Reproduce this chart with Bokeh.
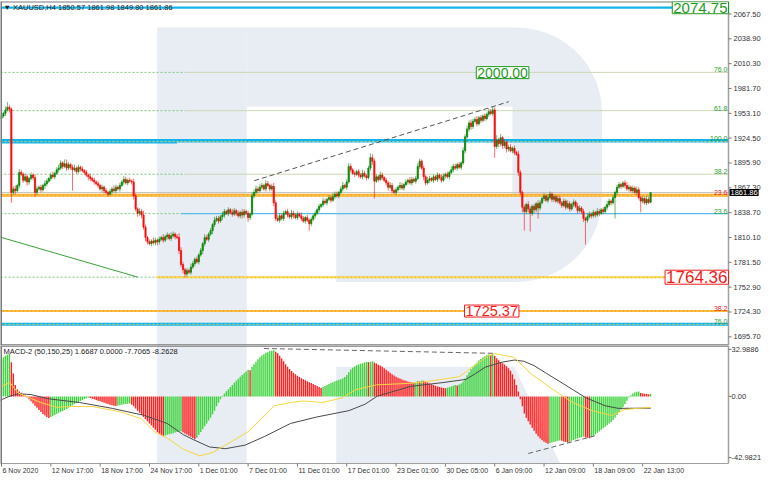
import numpy as np
from bokeh.plotting import figure
from bokeh.layouts import column
from bokeh.models import Range1d, Label
from bokeh.embed import file_html
from bokeh.resources import INLINE

# ---------------- data ----------------
SYMBOL_TITLE = "\u25bc XAUUSD,H4 1850.57 1861.98 1849.80 1861.86"
MACD_TITLE = "MACD-2 (50,150,25) 1.6687 0.0000 -7.7065 -8.2628"

FIRST_OPEN = 1947.0
CLOSE = [
    1950, 1953, 1957, 1960, 1958, 1862, 1866, 1864, 1870, 1885,
    1883, 1876, 1880, 1874, 1878, 1882, 1879, 1862, 1866, 1868,
    1865, 1870, 1872, 1875, 1878, 1882, 1880, 1884, 1888, 1890,
    1896, 1892, 1895, 1890, 1894, 1891, 1888, 1890, 1886, 1891,
    1889, 1887, 1885, 1882, 1880, 1878, 1876, 1874, 1872, 1870,
    1866, 1868, 1864, 1862, 1860, 1863, 1866, 1864, 1868, 1866,
    1870, 1874, 1877, 1873, 1876, 1875, 1874, 1858, 1843, 1838,
    1840, 1836, 1822, 1810, 1805, 1803, 1806, 1804, 1807, 1805,
    1808, 1810, 1807, 1811, 1813, 1809, 1812, 1814, 1811, 1810,
    1795, 1779, 1773, 1768, 1772, 1770, 1776, 1780, 1785, 1782,
    1790, 1795, 1803, 1810, 1808, 1814, 1818, 1825, 1830, 1832,
    1829, 1834, 1836, 1840, 1838, 1842, 1839, 1837, 1841, 1838,
    1835, 1839, 1836, 1840, 1838, 1833, 1837, 1858, 1862, 1866,
    1864, 1868, 1870, 1866, 1872, 1870, 1866, 1869, 1850, 1832,
    1830, 1835, 1832, 1838, 1840, 1836, 1834, 1838, 1836, 1833,
    1837, 1835, 1832, 1829, 1833, 1830, 1826, 1831, 1835, 1838,
    1842, 1846, 1848, 1852, 1850, 1854, 1856, 1853, 1857, 1860,
    1858, 1862, 1866, 1870, 1868, 1874, 1892, 1888, 1884, 1883,
    1886, 1882, 1880, 1884, 1881, 1879, 1890, 1902, 1898, 1875,
    1880, 1877, 1882, 1879, 1876, 1873, 1868, 1870, 1864, 1862,
    1865, 1868, 1870, 1867, 1871, 1874, 1876, 1873, 1877, 1875,
    1878, 1892, 1898, 1890, 1880, 1873, 1876, 1878, 1876, 1880,
    1877, 1882, 1879, 1876, 1881, 1883, 1880, 1885, 1888, 1892,
    1890, 1894, 1891, 1896, 1910, 1926, 1935, 1942, 1938, 1944,
    1946, 1941, 1948, 1945, 1950, 1947, 1952, 1955, 1953, 1957,
    1915, 1922, 1918, 1925, 1916, 1920, 1912, 1914, 1910, 1913,
    1908, 1906, 1885, 1862, 1845, 1840, 1848, 1843, 1838, 1846,
    1842, 1849, 1844, 1850, 1855, 1858, 1853, 1856, 1860, 1854,
    1857, 1852, 1855, 1850, 1847, 1852, 1845, 1849, 1843, 1848,
    1851, 1846, 1841, 1844, 1840, 1832, 1830, 1834, 1837, 1835,
    1839, 1836, 1840, 1838, 1842, 1840, 1845, 1848, 1852, 1850,
    1856, 1862, 1868, 1871, 1869, 1873, 1870, 1866, 1868, 1864,
    1867, 1862, 1865, 1856, 1852, 1855, 1850, 1854, 1850.57, 1861.86,
]
UP_WICK = [
    3, 2, 4, 6, 3, 2, 3, 4, 2, 4,
    3, 2, 4, 3, 2, 3, 2, 4, 3, 2,
    3, 2, 4, 3, 2, 3, 4, 2, 3, 4,
    3, 2, 5, 5, 3, 2, 3, 4, 2, 3,
    2, 3, 2, 3, 2, 4, 2, 3, 2, 3,
    2, 3, 2, 3, 2, 3, 2, 4, 3, 2,
    3, 2, 4, 3, 2, 3, 2, 4, 3, 2,
    4, 3, 5, 3, 2, 3, 2, 4, 3, 2,
    3, 2, 4, 2, 3, 2, 4, 3, 2, 3,
    5, 4, 3, 2, 3, 2, 4, 3, 2, 3,
    2, 3, 2, 4, 3, 2, 3, 2, 4, 3,
    3, 2, 4, 3, 2, 3, 2, 4, 3, 2,
    3, 2, 4, 3, 2, 3, 2, 4, 3, 4,
    3, 4, 3, 2, 4, 3, 2, 3, 4, 3,
    4, 3, 2, 3, 2, 3, 2, 4, 3, 2,
    3, 2, 4, 3, 2, 3, 2, 3, 2, 3,
    2, 3, 2, 4, 3, 2, 3, 2, 4, 3,
    3, 2, 3, 4, 2, 3, 4, 3, 2, 3,
    2, 3, 2, 4, 3, 2, 3, 5, 4, 3,
    3, 2, 4, 3, 2, 3, 2, 4, 3, 2,
    3, 2, 4, 3, 2, 3, 2, 4, 3, 2,
    3, 4, 3, 2, 3, 2, 4, 3, 2, 3,
    2, 3, 2, 4, 3, 2, 3, 2, 4, 3,
    3, 2, 3, 2, 4, 3, 4, 3, 4, 3,
    3, 4, 2, 3, 2, 3, 2, 4, 3, 4,
    3, 6, 3, 4, 2, 3, 2, 3, 4, 2,
    3, 2, 4, 3, 2, 3, 2, 4, 3, 2,
    3, 2, 4, 3, 2, 3, 2, 4, 3, 2,
    3, 2, 4, 3, 2, 3, 2, 4, 3, 2,
    3, 2, 4, 3, 2, 3, 2, 4, 3, 2,
    3, 2, 4, 3, 2, 3, 2, 4, 3, 2,
    3, 2, 3, 3, 2, 2, 3, 4, 3, 2,
    3, 2, 4, 3, 2, 3, 2, 4, 3, 0.12,
]
DN_WICK = [
    3, 2, 3, 2, 4, 12, 3, 4, 2, 3,
    2, 3, 2, 4, 3, 2, 3, 5, 3, 2,
    3, 2, 4, 3, 2, 3, 2, 3, 2, 3,
    2, 3, 2, 3, 2, 3, 24, 2, 3, 2,
    3, 2, 3, 2, 4, 3, 2, 3, 2, 3,
    2, 4, 3, 2, 3, 2, 3, 2, 3, 2,
    3, 2, 3, 2, 3, 2, 3, 4, 3, 4,
    3, 4, 3, 4, 3, 2, 3, 2, 3, 4,
    3, 2, 3, 2, 3, 2, 3, 2, 3, 2,
    4, 3, 4, 4, 3, 2, 3, 2, 3, 2,
    3, 2, 4, 3, 2, 3, 2, 4, 3, 2,
    3, 2, 4, 3, 2, 3, 2, 3, 2, 3,
    2, 3, 4, 3, 2, 5, 3, 2, 3, 2,
    3, 2, 3, 2, 3, 2, 3, 2, 4, 3,
    2, 3, 2, 3, 2, 3, 2, 3, 4, 2,
    3, 2, 3, 2, 3, 2, 8, 3, 2, 3,
    2, 3, 2, 3, 2, 3, 2, 3, 2, 3,
    2, 3, 2, 3, 2, 3, 2, 3, 2, 3,
    2, 3, 2, 3, 2, 3, 2, 3, 4, 20,
    2, 3, 2, 3, 2, 3, 4, 2, 3, 2,
    3, 2, 3, 2, 3, 2, 3, 2, 3, 2,
    3, 2, 3, 2, 4, 3, 2, 3, 2, 3,
    2, 3, 2, 3, 2, 3, 2, 3, 2, 3,
    2, 3, 2, 3, 2, 3, 2, 3, 4, 3,
    2, 3, 2, 3, 2, 3, 2, 3, 2, 3,
    13, 3, 4, 3, 4, 3, 4, 3, 2, 3,
    3, 2, 4, 3, 6, 22, 3, 4, 21, 3,
    4, 3, 12, 3, 2, 3, 2, 3, 2, 3,
    3, 2, 3, 2, 3, 2, 3, 2, 3, 2,
    3, 2, 3, 2, 3, 4, 28, 3, 2, 3,
    2, 3, 2, 3, 2, 3, 2, 3, 2, 3,
    2, 24, 3, 2, 3, 2, 3, 2, 3, 2,
    3, 2, 3, 2, 13, 3, 2, 3, 2, 0.77,
]
MACD_HIST = [
    26, 27.5, 28.5, 29.3, 29.8, 24, 16, 8, 5, 3.5,
    2.5, 1.5, 0.5, -0.8, -2, -3.5, -5, -6.5, -8, -9.5,
    -11, -12.3, -13.5, -14.5, -15.2, -14.5, -13.8, -13, -12.2, -11.5,
    -10.8, -10.2, -9.6, -8.9, -8, -7, -6.2, -5.4, -4.6, -3.9,
    -3.2, -2.5, -1.9, -1.4, -1.0, -1.2, -1.6, -2.0, -2.5, -3.0,
    -3.5, -4.0, -4.5, -5.0, -5.4, -5.8, -6.2, -6.5, -6.8, -6.5,
    -6.2, -5.9, -5.6, -5.4, -5.2, -5.0, -5.8, -7, -8.5, -10,
    -11.5, -13, -14.5, -16, -17.5, -19, -20.5, -22, -23.5, -25,
    -26.3, -27.3, -28, -27.5, -27, -26.6, -26.2, -25.8, -25.4, -25,
    -24.7, -24.4, -25.2, -26, -26.8, -27.6, -28.4, -29.2, -30, -29,
    -27, -25, -23, -21, -19, -17, -15, -12.5, -10, -7,
    -4.5, -2, 0.4, 2, 3.6, 5, 6.5, 8, 9.5, 11,
    12.4, 13.7, 15, 16.2, 17.4, 18.6, 18.3, 20.6, 22.5, 24.3,
    26, 27.4, 28.6, 29.6, 30.4, 31, 31.6, 32, 32.3, 31.4,
    30.2, 28.5, 26.6, 24.6, 22.6, 20.8, 19.2, 17.8, 16.6, 15.5,
    14.5, 13.6, 12.8, 12.1, 11.4, 10.7, 10.0, 9.3, 8.6, 7.9,
    7.2, 6.5, 5.8, 6.5, 7.2, 7.9, 8.7, 9.4, 10, 10.6,
    11.1, 11.6, 12.1, 12.7, 13.6, 15, 17, 18.8, 20, 21,
    21.8, 22.4, 22.9, 23.3, 23.7, 24.1, 23.9, 24.3, 24.6, 23.8,
    23, 22.2, 21.6, 20.8, 19.8, 18.7, 17.6, 16.5, 15.5, 14.6,
    13.8, 13.1, 12.5, 11.9, 11.4, 10.9, 10.5, 10.1, 9.8, 9.5,
    10.0, 10.8, 10.5, 11.2, 10.9, 10.3, 9.7, 9.1, 8.5, 8.0,
    7.5, 7.0, 6.6, 6.2, 5.9, 5.7, 6.0, 6.4, 6.9, 7.4,
    7.9, 7.6, 8.3, 9.0, 10.5, 12.5, 14.8, 17, 19, 20.8,
    22.4, 23.8, 25.1, 26.3, 27.3, 28.1, 28.8, 29.4, 29.1, 29.6,
    28.3, 26.8, 25.3, 24.2, 23.3, 22.3, 21.2, 19.8, 18, 15.5,
    12, 8, 3.5, -2, -7, -12, -15, -17.5, -19.8, -22,
    -24.2, -26.2, -28, -29.6, -30.8, -31.8, -32.6, -33.2, -32.8, -32.4,
    -32, -31.6, -31.2, -30.9, -31.2, -31.6, -32, -32.3, -31.8, -31.2,
    -30.6, -30, -29.5, -29, -28.6, -28.2, -28.6, -29, -29.3, -28.5,
    -27.6, -26.6, -25.6, -24.6, -23.5, -22.4, -21.3, -20.2, -19.1, -18,
    -16.5, -14.8, -13, -11.2, -9.4, -7.4, -5.3, -3, -0.8, 0.8,
    2, 2.8, 3.2, 3.4, 2.4, 2.1, 1.9, 1.7, 1.55, 1.6687,
]
MACD_MAIN_X = [-1.5, 3.4, 8.4, 15.0, 23.2, 39.6, 56.1, 72.5, 84.0, 92.2, 97.2, 105.4,
               113.6, 123.5, 133.4, 146.5, 159.7, 176.1, 184.3, 190.5, 207.4, 223.8,
               235.3, 240.3, 245.2, 253.4, 260.0, 264.9, 269.9, 276.4, 283.0, 289.6,
               296.2, 306.0, 312.6, 329.1]
MACD_MAIN_Y = [-3.2, -0.3, 1.8, 1.3, -1.6, -4.3, -8.4, -13.4, -19.0, -26.9, -30.3, -35.5,
               -36.7, -34.2, -28.1, -19.0, -14.5, -10.0, -5.5, 0.2, 7.0, 9.7,
               11.9, 16.0, 20.5, 23.9, 25.5, 24.6, 21.6, 16.0, 10.4, 4.7,
               -1.0, -6.6, -8.4, -8.2628]
SIGNAL_X = [0.2, 4.3, 8.4, 19.9, 28.1, 34.7, 46.2, 52.8, 61.0, 70.9, 77.4, 84.0,
            92.2, 100.5, 107.0, 116.9, 125.1, 133.4, 138.3, 146.5, 153.1, 162.9,
            172.8, 179.4, 190.1, 207.4, 215.6, 232.0, 238.6, 246.8, 250.1, 260.0,
            268.2, 279.7, 289.6, 299.4, 309.3, 315.9, 322.5, 329.1]
SIGNAL_Y = [7.0, 9.7, 2.4, -4.3, -7.7, -7.1, -7.1, -8.9, -11.1, -15.7, -24.7, -29.2,
            -37.1, -41.7, -39.4, -31.5, -24.7, -13.4, -6.6, -4.3, -3.2, -4.3,
            -1.0, 4.7, 8.1, 9.2, 10.4, 13.8, 20.5, 28.4, 30.0, 27.3,
            16.0, 4.7, -4.3, -10.0, -13.4, -9.3, -8.4, -7.7065]

X_TICKS = [0, 25, 50, 75, 100, 125, 150, 175, 200, 225, 250, 275, 300, 325]
X_LABELS = ["6 Nov 2020", "12 Nov 17:00", "18 Nov 17:00", "24 Nov 17:00", "1 Dec 01:00",
            "7 Dec 01:00", "11 Dec 01:00", "17 Dec 01:00", "23 Dec 01:00", "30 Dec 05:00",
            "6 Jan 09:00", "12 Jan 09:00", "18 Jan 09:00", "22 Jan 13:00"]
PRICE_TICKS = [2067.50, 2038.90, 2010.30, 1981.70, 1953.10, 1924.50, 1895.90,
               1867.30, 1838.70, 1810.10, 1781.50, 1752.90, 1724.30, 1695.70]
MACD_TICKS = [32.9886, 0.0, -42.9821]
MACD_TICK_LABELS = ["32.9886", "0.00", "-42.9821"]

# Fibonacci objects and horizontal levels
FIB_G_LOW, FIB_G_HIGH = 1764.36, 2074.75
FIB_G_PCT = [0.0, 23.6, 38.2, 61.8, 76.0]
FIB_R_PCT = [23.6, 38.2]
FIB_R_LEVELS = [1858.8, 1725.37]
CYAN_LEVELS = [2074.75, 1921.5, 1710.1]
CYAN_TAGS = ["100.0", "100.0", "76.0"]
LAST_PRICE = 1861.86
BOX_GREEN = [2074.75, 2000.00]
BOX_RED = [1764.36, 1725.37]
# trend lines (bar index, value)
PRICE_DASH = [(128.1, 1875.5), (257.1, 1966.5)]
PRICE_GREEN = [(-1.5, 1811.1), (69.0, 1764.5)]
MACD_DASH_TOP = [(133.0, 33.6), (249.8, 30.2)]
MACD_DASH_BOT = [(267.0, -40.1), (301.5, -27.4)]

# ---------------- layout constants ----------------
X_LO, X_HI = -0.5, 368.5          # plotting area (bars)
P_LO, P_HI = 1685.7, 2081.9
M_LO, M_HI = -47.1, 35.7
DATA_W = 728                      # px of the bar area
AXIS_W = 38                       # px of the right-hand price scale
P_H = 344
M_H = 118
XLAB_H = 12                       # px of the time scale under the MACD pane
FONT = "Liberation Sans"
GREEN_T = "#2c9c2c"
RED_T = "#f02020"
LOGO = "#e8ecf3"
FRAME_C = "#7a7a7a"
AXIS_C = "#a0a0a0"
LABEL_C = "#333333"

BAR_PX = (X_HI - X_LO) / DATA_W   # bars per pixel
X_END = X_HI + AXIS_W * BAR_PX
P_PX = (P_HI - P_LO) / P_H
M_PX = (M_HI - M_LO) / M_H

# reference pixel geometry for the watermark
REF_L, REF_R = 2.0, 750.0
REF_PT, REF_PB = 1.0, 358.0
REF_MT, REF_MB = 361.0, 483.0


def rx(px):
    return X_LO + (np.asarray(px, float) - REF_L) / (REF_R - REF_L) * (X_HI - X_LO)


def ry_price(py):
    return P_HI - (np.asarray(py, float) - REF_PT) / (REF_PB - REF_PT) * (P_HI - P_LO)


def ry_macd(py):
    return M_HI - (np.asarray(py, float) - REF_MT) / (REF_MB - REF_MT) * (M_HI - M_LO)


def lab(fig, x, y, text, size="7.5px", color=LABEL_C, align="left", baseline="middle", **kw):
    fig.add_layout(Label(x=x, y=y, text=text, text_align=align, text_baseline=baseline,
                         text_font=FONT, text_font_size=size, text_color=color, **kw))


x_range = Range1d(X_LO, X_END)

# ---------------- price pane ----------------
p = figure(frame_width=DATA_W + AXIS_W, frame_height=P_H, x_range=x_range,
           y_range=Range1d(P_LO, P_HI), output_backend="svg", toolbar_location=None,
           x_axis_location=None, y_axis_location=None,
           min_border_left=0, min_border_top=1, min_border_bottom=0, min_border_right=0)
p.grid.visible = False
p.outline_line_color = None
p.background_fill_color = "white"
p.border_fill_color = "white"

# watermark logo
a1 = np.linspace(np.pi / 2, 0, 14)
a2 = np.linspace(0, -np.pi / 2, 14)
bowl_px = [255] + list(532 + 88 * np.cos(a1)) + list(532 + 88 * np.cos(a2)) + [347, 347, 528, 528, 255]
bowl_py = [28] + list(116 - 88 * np.sin(a1)) + list(204 - 88 * np.sin(a2)) + [292, 203, 203, 110, 110]
p.patch(rx(bowl_px), ry_price(bowl_py), color=LOGO, line_width=0)
p.patch(rx([163, 255, 255, 163]), ry_price([28, 28, 420, 420]), color=LOGO, line_width=0)

# level lines
fib_g = [FIB_G_LOW + pct / 100.0 * (FIB_G_HIGH - FIB_G_LOW) for pct in FIB_G_PCT]
for pct, lv in zip(FIB_G_PCT, fib_g):
    p.segment(X_LO, lv, 93, lv, line_color="#7cc57c", line_width=1, line_dash="2 2")
    if pct == 0.0:
        p.segment(78.5, lv, X_HI, lv, line_color="#f2c428", line_width=2)
        p.segment(78.5, lv, X_HI, lv, line_color="#fff2a0", line_width=1, line_dash="2 2")
    elif pct == 23.6:
        p.segment(91, lv, X_HI, lv, line_color="#55bde8", line_width=1.3)
    else:
        p.segment(93, lv, X_HI, lv, line_color="#a6d9ee", line_width=1, line_dash="2 2")
        p.segment(93, lv, X_HI, lv, line_color="#efd57a", line_width=1, line_dash="2 2",
                  line_dash_offset=2)

for lv, w in zip(CYAN_LEVELS, [2.2, 3.5, 3]):
    p.segment(X_LO, lv, X_HI, lv, line_color="#12b4ea", line_width=w)
p.segment(X_LO, CYAN_LEVELS[1] - 1.5, 89, CYAN_LEVELS[1] - 1.5, line_color="#12b4ea", line_width=3)
p.segment(X_LO, CYAN_LEVELS[1] - 1.0, X_HI, CYAN_LEVELS[1] - 1.0, line_color="#e9d36a",
          line_width=1, line_dash="2 2")
p.segment(X_LO, CYAN_LEVELS[2], X_HI, CYAN_LEVELS[2], line_color="#f3cf55",
          line_width=1, line_dash="2 2")

p.segment(X_LO, LAST_PRICE, X_HI, LAST_PRICE, line_color="#c4c4c4", line_width=1)
for lv, w in zip(FIB_R_LEVELS, [3, 2]):
    p.segment(X_LO, lv, X_HI, lv, line_color="#f8ac2c", line_width=w)
    p.segment(X_LO, lv, X_HI, lv, line_color="#ffd860", line_width=1, line_dash="2 2")

# trend lines
p.segment(PRICE_DASH[0][0], PRICE_DASH[0][1], PRICE_DASH[1][0], PRICE_DASH[1][1],
          line_color="#555555", line_width=1, line_dash="5 3")
p.segment(PRICE_GREEN[0][0], PRICE_GREEN[0][1], PRICE_GREEN[1][0], PRICE_GREEN[1][1],
          line_color="#3aa03a", line_width=1)

# candles
close = np.array(CLOSE, float)
N = len(close)
idx = np.arange(N)
open_ = np.concatenate([[FIRST_OPEN], close[:-1]])
high = np.maximum(open_, close) + np.array(UP_WICK, float)
low = np.minimum(open_, close) - np.array(DN_WICK, float)
bull = close >= open_
ccol = np.where(bull, "#0c880c", "#f21010")
p.segment(idx, low, idx, high, line_color=list(ccol), line_width=1, line_alpha=0.6)
p.vbar(x=idx, bottom=np.minimum(open_, close), top=np.maximum(open_, close), width=0.6,
       fill_color=list(ccol), line_color=list(ccol), line_width=0.8)

# frame and price scale
p.segment(X_LO, P_HI, X_HI, P_HI, line_color=FRAME_C, line_width=2)
p.segment(X_LO, P_LO, X_HI, P_LO, line_color=FRAME_C, line_width=2.5)
p.segment(X_LO, P_LO, X_LO, P_HI, line_color=FRAME_C, line_width=3)
p.segment(X_HI, P_LO, X_HI, P_HI, line_color=AXIS_C, line_width=1.5)
p.segment([X_HI] * len(PRICE_TICKS), PRICE_TICKS, [X_HI + 3 * BAR_PX] * len(PRICE_TICKS),
          PRICE_TICKS, line_color="#777777", line_width=1)
for t in PRICE_TICKS:
    lab(p, X_HI, t, f"{t:.2f}", x_offset=5)

# level tags on the right
for pct, lv in zip(FIB_G_PCT, fib_g):
    lab(p, X_HI, lv, f"{pct:.1f}", size="7px", color=GREEN_T, align="right",
        baseline="bottom", x_offset=-1)
for tag, lv in zip(CYAN_TAGS, CYAN_LEVELS):
    lab(p, X_HI, lv, tag, size="7px", color=GREEN_T, align="right",
        baseline="bottom", x_offset=-1)
for pct, lv in zip(FIB_R_PCT, FIB_R_LEVELS):
    lab(p, X_HI, lv, f"{pct:.1f}", size="7px", color=RED_T, align="right",
        baseline="bottom", x_offset=-1)


# big price boxes
def box(xv, yv, val, col, size, align):
    lab(p, xv, yv, f"{val:.2f}", size=size, color=col, align=align,
        background_fill_color="white", border_line_color=col, border_line_width=1, padding=1)


box(X_HI, BOX_GREEN[0], BOX_GREEN[0], "#1f9a1f", "15px", "right")
box(254, BOX_GREEN[1], BOX_GREEN[1], "#1f9a1f", "14px", "center")
box(X_HI, BOX_RED[0], BOX_RED[0], "#f01c1c", "17px", "right")
box(248.5, BOX_RED[1], BOX_RED[1], "#f01c1c", "14.5px", "center")

# current price marker on the scale
lab(p, X_HI, LAST_PRICE, f"{LAST_PRICE:.2f}", color="white", x_offset=1,
    background_fill_color="black", padding=1)

lab(p, X_LO, P_HI - 1.5, SYMBOL_TITLE, color="#202020", baseline="top", x_offset=3)

# ---------------- MACD pane ----------------
m = figure(frame_width=DATA_W + AXIS_W, frame_height=M_H + XLAB_H, x_range=x_range,
           y_range=Range1d(M_LO - XLAB_H * M_PX, M_HI), output_backend="svg",
           toolbar_location=None, x_axis_location=None, y_axis_location=None,
           min_border_left=0, min_border_top=0, min_border_bottom=0, min_border_right=0)
m.grid.visible = False
m.outline_line_color = None
m.background_fill_color = "white"
m.border_fill_color = "white"

m.patch(rx([163, 255, 255, 163]), ry_macd([340, 340, 483, 483]), color=LOGO, line_width=0)
m.patch(rx([347, 530, 577, 347]), ry_macd([383, 383, 483, 483]), color=LOGO, line_width=0)

hist = np.array(MACD_HIST, float)
rising = np.concatenate([[True], hist[1:] > hist[:-1]])
hcol = np.where(rising, "#3fd43f", "#ff2020")
m.vbar(x=idx, bottom=0, top=hist, width=0.72, fill_color=list(hcol), line_width=0)
m.line(MACD_MAIN_X, MACD_MAIN_Y, line_color="#4a4a4a", line_width=1)
m.line(SIGNAL_X, SIGNAL_Y, line_color="#f6d640", line_width=1)
m.segment(MACD_DASH_TOP[0][0], MACD_DASH_TOP[0][1], MACD_DASH_TOP[1][0], MACD_DASH_TOP[1][1],
          line_color="#666666", line_width=1, line_dash="5 3")
m.segment(MACD_DASH_BOT[0][0], MACD_DASH_BOT[0][1], MACD_DASH_BOT[1][0], MACD_DASH_BOT[1][1],
          line_color="#666666", line_width=1, line_dash="5 3")

# frame, value scale and time scale
m.segment(X_LO, M_HI, X_HI, M_HI, line_color=FRAME_C, line_width=2.5)
m.segment(X_LO, M_LO, X_HI, M_LO, line_color=AXIS_C, line_width=1)
m.segment(X_LO, M_LO, X_LO, M_HI, line_color=FRAME_C, line_width=3)
m.segment(X_HI, M_LO, X_HI, M_HI, line_color=AXIS_C, line_width=1.5)
m.segment([X_HI] * len(MACD_TICKS), MACD_TICKS, [X_HI + 3 * BAR_PX] * len(MACD_TICKS),
          MACD_TICKS, line_color="#777777", line_width=1)
for t, s in zip(MACD_TICKS, MACD_TICK_LABELS):
    lab(m, X_HI, t, s, x_offset=3)
m.segment(X_TICKS, [M_LO] * len(X_TICKS), X_TICKS, [M_LO - 3 * M_PX] * len(X_TICKS),
          line_color="#777777", line_width=1)
for t, s in zip(X_TICKS, X_LABELS):
    lab(m, t, M_LO - 3 * M_PX, s, size="7px", baseline="top", x_offset=1)

lab(m, X_LO, M_HI - 1.2, MACD_TITLE, color="#202020", baseline="top", x_offset=3)

layout = column(p, m, spacing=0)
open("out.html", "w").write(file_html(layout, INLINE, "XAUUSD H4"))
